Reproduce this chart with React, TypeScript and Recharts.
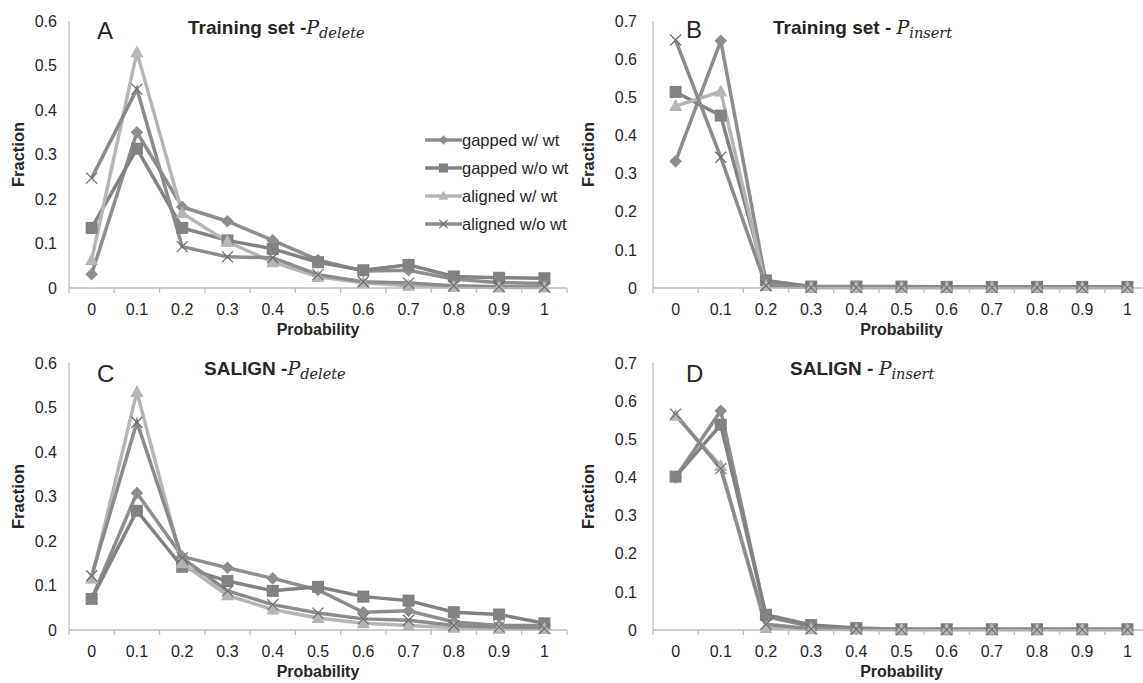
import { Legend, Line, LineChart, XAxis, YAxis } from "recharts";

const categories = ["0", "0.1", "0.2", "0.3", "0.4", "0.5", "0.6", "0.7", "0.8", "0.9", "1"];
const seriesNames = ["gapped w/ wt", "gapped w/o wt", "aligned w/ wt", "aligned w/o wt"];
const ticksDelete = [0, 0.1, 0.2, 0.3, 0.4, 0.5, 0.6];
const ticksInsert = [0, 0.1, 0.2, 0.3, 0.4, 0.5, 0.6, 0.7];

// A: training set, P_delete
const trainDeleteGappedWt = [0.031, 0.35, 0.182, 0.15, 0.107, 0.063, 0.038, 0.04, 0.02, 0.012, 0.01];
const trainDeleteGappedWo = [0.135, 0.313, 0.135, 0.107, 0.088, 0.058, 0.04, 0.052, 0.026, 0.023, 0.022];
const trainDeleteAlignedWt = [0.063, 0.53, 0.168, 0.104, 0.058, 0.025, 0.012, 0.005, 0.002, 0.001, 0.001];
const trainDeleteAlignedWo = [0.247, 0.447, 0.093, 0.07, 0.068, 0.03, 0.014, 0.011, 0.005, 0.003, 0.002];

// B: training set, P_insert
const trainInsertGappedWt = [0.332, 0.648, 0.015, 0.003, 0.003, 0.003, 0.002, 0.002, 0.002, 0.002, 0.002];
const trainInsertGappedWo = [0.514, 0.452, 0.02, 0.004, 0.004, 0.004, 0.003, 0.003, 0.003, 0.003, 0.003];
const trainInsertAlignedWt = [0.477, 0.515, 0.005, 0.001, 0.001, 0.001, 0.001, 0.001, 0.001, 0.001, 0.001];
const trainInsertAlignedWo = [0.65, 0.343, 0.006, 0.001, 0.001, 0.001, 0.001, 0.001, 0.001, 0.001, 0.001];

// C: SALIGN, P_delete
const salignDeleteGappedWt = [0.07, 0.308, 0.165, 0.14, 0.116, 0.09, 0.04, 0.043, 0.018, 0.01, 0.01];
const salignDeleteGappedWo = [0.07, 0.268, 0.142, 0.11, 0.088, 0.097, 0.075, 0.066, 0.04, 0.035, 0.015];
const salignDeleteAlignedWt = [0.115, 0.535, 0.15, 0.078, 0.046, 0.027, 0.015, 0.01, 0.005, 0.003, 0.002];
const salignDeleteAlignedWo = [0.122, 0.467, 0.162, 0.088, 0.057, 0.038, 0.025, 0.022, 0.01, 0.007, 0.003];

// D: SALIGN, P_insert
const salignInsertGappedWt = [0.4, 0.575, 0.035, 0.01, 0.003, 0.002, 0.002, 0.002, 0.002, 0.002, 0.002];
const salignInsertGappedWo = [0.402, 0.538, 0.04, 0.013, 0.005, 0.002, 0.002, 0.002, 0.002, 0.002, 0.002];
const salignInsertAlignedWt = [0.562, 0.43, 0.005, 0.002, 0.001, 0.001, 0.001, 0.001, 0.001, 0.001, 0.001];
const salignInsertAlignedWo = [0.566, 0.423, 0.015, 0.003, 0.002, 0.001, 0.001, 0.001, 0.001, 0.001, 0.001];

const sans = "'Liberation Sans', Arial, sans-serif";
const serif = "'DejaVu Serif', serif";
const axisColor = "#bdbdbd";
const textColor = "#262626";

const styles = [
  { color: "#8d8d8d", shape: "diamond" },
  { color: "#828282", shape: "square" },
  { color: "#b5b5b5", shape: "triangle" },
  { color: "#8b8b8b", shape: "x" },
];

function buildRows(series: number[][]) {
  return categories.map((cat, i) => {
    const row: Record<string, string | number> = { cat };
    series.forEach((s, k) => (row["s" + k] = s[i]));
    return row;
  });
}

const Marker = ({ shape, cx, cy, color, k = 1 }: any) => {
  if (cx == null || cy == null) return null;
  if (shape === "diamond") {
    const r = 6.3 * k;
    return <path d={`M${cx},${cy - r}L${cx + r},${cy}L${cx},${cy + r}L${cx - r},${cy}Z`} fill={color} />;
  }
  if (shape === "square") {
    const r = 6 * k;
    return <rect x={cx - r} y={cy - r} width={2 * r} height={2 * r} fill={color} />;
  }
  if (shape === "triangle") {
    return (
      <path
        d={`M${cx},${cy - 7 * k}L${cx + 6.5 * k},${cy + 5 * k}L${cx - 6.5 * k},${cy + 5 * k}Z`}
        fill={color}
      />
    );
  }
  const r = 5.5 * k;
  return (
    <path
      d={`M${cx - r},${cy - r}L${cx + r},${cy + r}M${cx + r},${cy - r}L${cx - r},${cy + r}`}
      stroke="#6f6f6f"
      strokeWidth={1.3}
      fill="none"
    />
  );
};

// category labels plus tick marks on the band edges, like Excel
const BandTick = (props: any) => {
  const { x, y, payload, width, index, visibleTicksCount } = props;
  const half = (width || 498) / categories.length / 2;
  const axisY = y - 16;
  return (
    <g>
      <line x1={x - half} y1={axisY} x2={x - half} y2={axisY + 5} stroke={axisColor} strokeWidth={1.3} />
      {index === visibleTicksCount - 1 && (
        <line x1={x + half} y1={axisY} x2={x + half} y2={axisY + 5} stroke={axisColor} strokeWidth={1.3} />
      )}
      <text x={x} y={y} dy="0.71em" textAnchor="middle" fill={textColor} fontSize={16} fontFamily={sans}>
        {payload.value}
      </text>
    </g>
  );
};

const LegendContent = (props: any) => {
  const items = [...(props.payload || [])].sort(
    (a: any, b: any) => seriesNames.indexOf(a.value) - seriesNames.indexOf(b.value)
  );
  return (
    <div style={{ fontFamily: sans, fontSize: 16.5, color: textColor }}>
      {items.map((it: any, i: number) => {
        const st = styles[seriesNames.indexOf(it.value)] || styles[0];
        return (
          <div key={i} style={{ display: "flex", alignItems: "center", height: 28 }}>
            <svg width={37} height={16} style={{ display: "block" }}>
              <line x1={0} y1={8} x2={37} y2={8} stroke={st.color} strokeWidth={3.5} />
              <Marker shape={st.shape} cx={18.5} cy={8} color={st.color} k={0.75} />
            </svg>
            <span style={{ whiteSpace: "nowrap" }}>{it.value}</span>
          </div>
        );
      })}
    </div>
  );
};

interface PanelProps {
  left: number;
  top: number;
  width: number;
  marginRight: number;
  yAxisWidth: number;
  yTickMargin: number;
  ticks: number[];
  series: number[][];
  legend?: boolean;
}

const Panel = ({ left, top, width, marginRight, yAxisWidth, yTickMargin, ticks, series, legend }: PanelProps) => {
  const rows = buildRows(series);
  const pad = (width - marginRight - yAxisWidth) / categories.length / 2;
  return (
    <div style={{ position: "absolute", left, top }}>
      <LineChart width={width} height={340} data={rows} margin={{ top: 21, right: marginRight, bottom: 0, left: 0 }}>
        <XAxis
          dataKey="cat"
          height={52}
          padding={{ left: pad, right: pad }}
          stroke={axisColor}
          strokeWidth={1.3}
          tickLine={false}
          tickSize={5}
          tickMargin={11}
          interval={0}
          tick={<BandTick />}
          label={{
            value: "Probability",
            position: "insideBottom",
            offset: 5,
            fill: textColor,
            fontSize: 16,
            fontWeight: "bold",
            fontFamily: sans,
          }}
        />
        <YAxis
          width={yAxisWidth}
          domain={[0, ticks[ticks.length - 1]]}
          ticks={ticks}
          interval={0}
          stroke={axisColor}
          strokeWidth={1.3}
          tickLine={false}
          tickSize={6}
          tickMargin={yTickMargin}
          tick={{ fill: textColor, fontSize: 16, fontFamily: sans }}
          label={{
            value: "Fraction",
            angle: -90,
            position: "insideLeft",
            offset: 18,
            fill: textColor,
            fontSize: 16.5,
            fontWeight: "bold",
            fontFamily: sans,
            style: { textAnchor: "middle" },
          }}
        />
        {legend && (
          <Legend
            layout="vertical"
            align="center"
            verticalAlign="middle"
            wrapperStyle={{ left: 425, top: 126, width: 170 }}
            content={<LegendContent />}
          />
        )}
        {series.map((_, k) => (
          <Line
            key={k}
            name={seriesNames[k]}
            dataKey={"s" + k}
            type="linear"
            stroke={styles[k].color}
            strokeWidth={3.5}
            isAnimationActive={false}
            activeDot={false}
            dot={(p: any) => (
              <Marker key={k + "-" + p.index} shape={styles[k].shape} cx={p.cx} cy={p.cy} color={styles[k].color} />
            )}
          />
        ))}
      </LineChart>
    </div>
  );
};

const Title = ({ x, y, lead, sub }: { x: number; y: number; lead: string; sub: string }) => (
  <text x={x} y={y} fontFamily={sans} fontWeight="bold" fontSize={19} fill={textColor}>
    {lead}
    <tspan fontFamily={serif} fontStyle="italic" fontWeight="normal" fontSize={19}>
      P
    </tspan>
    <tspan fontFamily={serif} fontStyle="italic" fontWeight="normal" fontSize={14.5} dy={4}>
      {sub}
    </tspan>
  </text>
);

const Letter = ({ x, y, v }: { x: number; y: number; v: string }) => (
  <text x={x} y={y} fontFamily={sans} fontSize={24} fill={textColor}>
    {v}
  </text>
);

export default function App() {
  return (
    <div
      style={{
        position: "absolute",
        left: 0,
        top: 0,
        width: 1143,
        height: 683,
        overflow: "hidden",
        background: "#fff",
      }}
    >
      <Panel
        left={0}
        top={0}
        width={580}
        marginRight={13}
        yAxisWidth={69}
        yTickMargin={6}
        ticks={ticksDelete}
        series={[trainDeleteGappedWt, trainDeleteGappedWo, trainDeleteAlignedWt, trainDeleteAlignedWo]}
        legend
      />
      <Panel
        left={570}
        top={0}
        width={585}
        marginRight={5}
        yAxisWidth={83}
        yTickMargin={10}
        ticks={ticksInsert}
        series={[trainInsertGappedWt, trainInsertGappedWo, trainInsertAlignedWt, trainInsertAlignedWo]}
      />
      <Panel
        left={0}
        top={342}
        width={580}
        marginRight={13}
        yAxisWidth={69}
        yTickMargin={6}
        ticks={ticksDelete}
        series={[salignDeleteGappedWt, salignDeleteGappedWo, salignDeleteAlignedWt, salignDeleteAlignedWo]}
      />
      <Panel
        left={570}
        top={342}
        width={585}
        marginRight={5}
        yAxisWidth={83}
        yTickMargin={10}
        ticks={ticksInsert}
        series={[salignInsertGappedWt, salignInsertGappedWo, salignInsertAlignedWt, salignInsertAlignedWo]}
      />
      <svg
        width={1143}
        height={683}
        style={{ position: "absolute", left: 0, top: 0, pointerEvents: "none" }}
      >
        <Letter x={97} y={39} v="A" />
        <Letter x={686} y={38} v="B" />
        <Letter x={97} y={382} v="C" />
        <Letter x={686} y={382} v="D" />
        <Title x={188} y={34} lead="Training set -" sub="delete" />
        <Title x={773} y={34} lead="Training set - " sub="insert" />
        <Title x={204} y={375} lead="SALIGN -" sub="delete" />
        <Title x={790} y={375} lead="SALIGN - " sub="insert" />
      </svg>
    </div>
  );
}
